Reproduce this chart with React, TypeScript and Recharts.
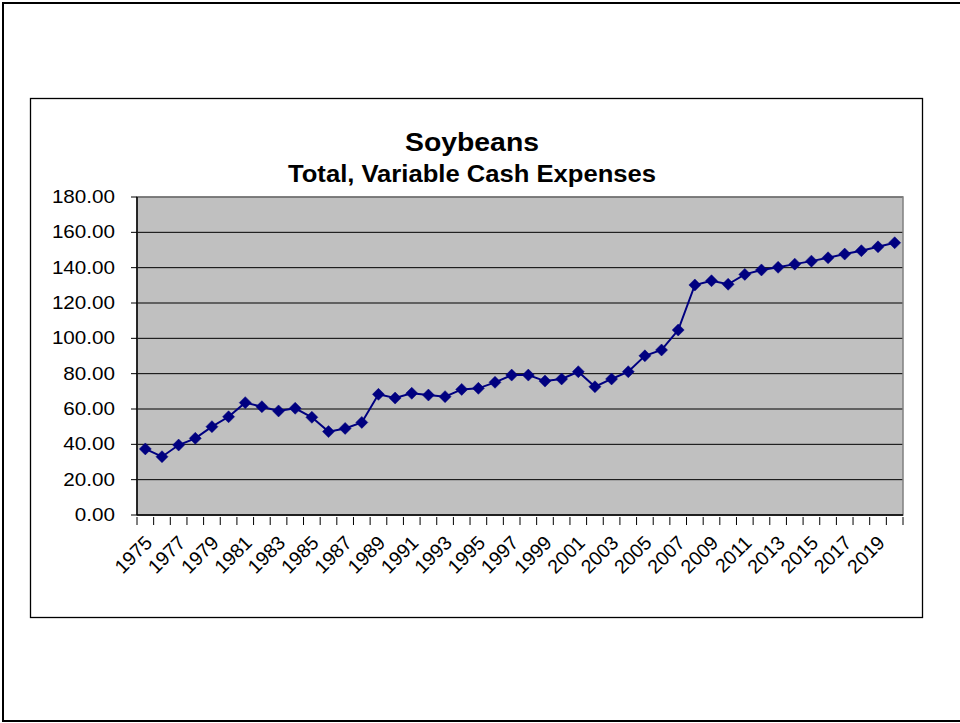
import React from 'react';
import { LineChart, Line, XAxis, YAxis, CartesianGrid, ReferenceArea } from 'recharts';

const years: number[] = [
  1975, 1976, 1977, 1978, 1979, 1980, 1981, 1982, 1983, 1984,
  1985, 1986, 1987, 1988, 1989, 1990, 1991, 1992, 1993, 1994,
  1995, 1996, 1997, 1998, 1999, 2000, 2001, 2002, 2003, 2004,
  2005, 2006, 2007, 2008, 2009, 2010, 2011, 2012, 2013, 2014,
  2015, 2016, 2017, 2018, 2019, 2020,
];

const expenses: number[] = [
  37.4, 33.0, 39.6, 43.4, 50.0, 55.6, 63.6, 61.3, 58.9, 60.4,
  55.3, 47.2, 49.0, 52.4, 68.3, 66.2, 68.9, 67.9, 67.0, 71.1,
  71.7, 75.1, 79.2, 79.2, 75.8, 77.0, 81.1, 72.6, 77.0, 81.1,
  90.1, 93.4, 104.7, 130.2, 132.6, 130.6, 136.2, 138.7, 140.2, 142.0,
  143.7, 145.6, 147.7, 149.6, 151.8, 154.1,
];

const xTickLabels: string[] = [
  '1975', '1977', '1979', '1981', '1983', '1985', '1987', '1989', '1991', '1993',
  '1995', '1997', '1999', '2001', '2003', '2005', '2007', '2009', '2011', '2013',
  '2015', '2017', '2019',
];

const yTicks: number[] = [0, 20, 40, 60, 80, 100, 120, 140, 160, 180];

const chartTitle = 'Soybeans';
const chartSubtitle = 'Total, Variable Cash Expenses';

const data = years.map((year, i) => ({ year, value: expenses[i] }));
const boundaries = [...years.map((y) => y - 0.5), years[years.length - 1] + 0.5];
const xDomain: [number, number] = [boundaries[0], boundaries[boundaries.length - 1]];
const labelValues = xTickLabels.map((s) => Number(s));
const xTicks = [...boundaries, ...labelValues].sort((a, b) => a - b);

const FONT = '"Liberation Sans", Arial, sans-serif';

const XTick = (props: any) => {
  const { x, y, payload } = props;
  const v = payload.value as number;
  if (v % 1 !== 0) {
    return <line x1={x} y1={y} x2={x} y2={y + 8} stroke="#000" strokeWidth={1} />;
  }
  if (!labelValues.includes(v)) return null;
  const tx = x + 8;
  const ty = y + 27;
  return (
    <text
      x={tx}
      y={ty}
      transform={`rotate(-45 ${tx} ${ty})`}
      textAnchor="end"
      fontFamily={FONT}
      fontSize={19.5}
      fill="#000"
    >
      {String(v)}
    </text>
  );
};

const YTick = (props: any) => {
  const { x, y, payload } = props;
  return (
    <text
      x={0}
      y={0}
      transform={`translate(${x} ${y}) scale(1.18 1)`}
      textAnchor="end"
      dominantBaseline="central"
      fontFamily={FONT}
      fontSize={17.5}
      fill="#000"
    >
      {(payload.value as number).toFixed(2)}
    </text>
  );
};

const Diamond = (props: any) => {
  const { cx, cy } = props;
  if (cx == null || cy == null) return null;
  const r = 6;
  return (
    <polygon
      points={`${cx},${cy - r} ${cx + r},${cy} ${cx},${cy + r} ${cx - r},${cy}`}
      fill="#000080"
      stroke="#000080"
      strokeWidth={0.5}
    />
  );
};

export default function App() {
  return (
    <div
      style={{
        position: 'absolute',
        left: 0,
        top: 0,
        width: 960,
        height: 723,
        overflow: 'hidden',
        background: '#fff',
      }}
    >
      <svg width={960} height={723} style={{ position: 'absolute', left: 0, top: 0 }}>
        <rect x={3} y={3} width={970} height={718} fill="#fff" stroke="#000" strokeWidth={2} />
        <rect x={30.5} y={98.5} width={892} height={519} fill="#fff" stroke="#000" strokeWidth={1.3} />
        <text
          x={472}
          y={150.5}
          textAnchor="middle"
          fontFamily={FONT}
          fontWeight="bold"
          fontSize={26}
          textLength={134}
          lengthAdjust="spacingAndGlyphs"
          fill="#000"
        >
          {chartTitle}
        </text>
        <text
          x={472}
          y={181.5}
          textAnchor="middle"
          fontFamily={FONT}
          fontWeight="bold"
          fontSize={23}
          textLength={368}
          lengthAdjust="spacingAndGlyphs"
          fill="#000"
        >
          {chartSubtitle}
        </text>
      </svg>
      <div style={{ position: 'absolute', left: 0, top: 0 }}>
        <LineChart
          width={960}
          height={723}
          data={data}
          margin={{ top: 197, right: 57, bottom: 148, left: 57 }}
        >
          <CartesianGrid
            vertical={false}
            stroke="#000"
            strokeWidth={1}
            fill="#C0C0C0"
            fillOpacity={1}
          />
          <ReferenceArea
            x1={xDomain[0]}
            x2={xDomain[1]}
            y1={0}
            y2={180}
            fill="none"
            stroke="#808080"
            strokeWidth={1.5}
          />
          <XAxis
            dataKey="year"
            type="number"
            domain={xDomain}
            allowDataOverflow
            ticks={xTicks}
            interval={0}
            tickSize={0}
            tickLine={false}
            tick={<XTick />}
            axisLine={{ stroke: '#000', strokeWidth: 1.5 }}
            height={60}
          />
          <YAxis
            domain={[0, 180]}
            ticks={yTicks}
            interval={0}
            width={80}
            tickSize={6}
            tickMargin={16}
            tickLine={{ stroke: '#000' }}
            axisLine={{ stroke: '#000', strokeWidth: 1.5 }}
            tick={<YTick />}
          />
          <Line
            type="linear"
            dataKey="value"
            stroke="#000080"
            strokeWidth={2}
            dot={<Diamond />}
            activeDot={false}
            isAnimationActive={false}
          />
        </LineChart>
      </div>
    </div>
  );
}
